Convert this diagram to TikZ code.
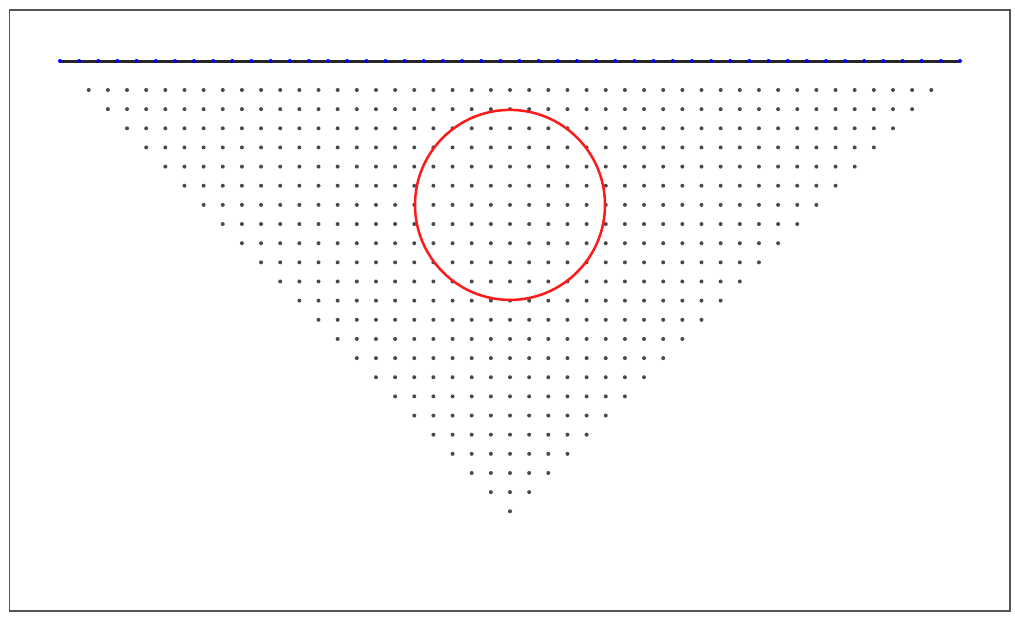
\documentclass[tikz,border=0pt]{standalone}
\usetikzlibrary{calc}
\definecolor{dotgray}{HTML}{4A4A4A}
\definecolor{framegray}{HTML}{555555}
\definecolor{ringred}{HTML}{FF1A1A}
\tikzset{
  griddot/.style={fill=dotgray, draw=none},
  linedot/.style={fill=blue, draw=none},
  frame/.style={draw=framegray, line width=1.5pt},
  topline/.style={draw=black!85, line width=3.0pt},
  ring/.style={draw=ringred, line width=2.5pt}
}
\begin{document}
\begin{tikzpicture}[x=1pt,y=-1pt]
\useasboundingbox (0,0) rectangle (1015,616);
\def\s{19.149}
\draw[frame] (9.5,10) rectangle (1010,611);
\coordinate (L) at (60,61);
\coordinate (R) at (960,61);
\draw[topline] (L) -- (R);
\foreach \i in {0,...,47}{
  \fill[linedot] ($(L)+(\i*\s,0)$) circle (2.0pt);
}
\foreach \r in {0,...,22}{
  \pgfmathtruncatemacro{\last}{44-\r}
  \foreach \i in {\r,...,\last}{
    \fill[griddot] (60+\i*\s+1.5*\s, 90+\r*\s) circle (2.0pt);
  }
}
\node[ring, circle, minimum size=190pt, inner sep=0pt] (c) at (510,204.9) {};
\end{tikzpicture}
\end{document}
